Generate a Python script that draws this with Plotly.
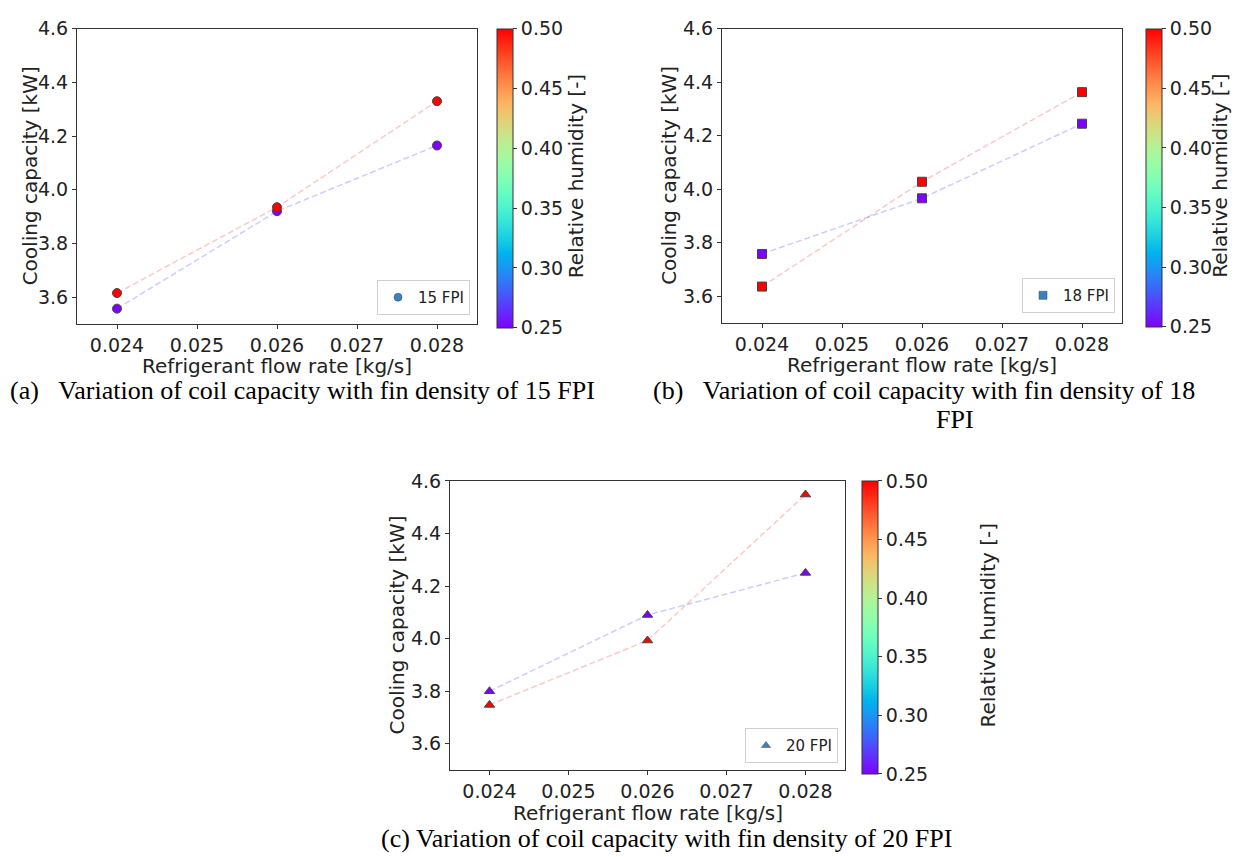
import plotly.graph_objects as go
import math

W, H = 1237, 857

# ---------------- data ----------------
flow_rate = [0.024, 0.026, 0.028]
rh_levels = [0.25, 0.50]

cap_15_rh025 = [3.557, 3.920, 4.165]
cap_15_rh050 = [3.615, 3.935, 4.330]
cap_18_rh025 = [3.758, 3.966, 4.245]
cap_18_rh050 = [3.636, 4.028, 4.363]
cap_20_rh025 = [3.800, 4.090, 4.250]
cap_20_rh050 = [3.748, 3.993, 4.548]

x_ticks = [0.024, 0.025, 0.026, 0.027, 0.028]
y_ticks = [3.6, 3.8, 4.0, 4.2, 4.4, 4.6]
cb_ticks = [0.25, 0.30, 0.35, 0.40, 0.45, 0.50]

labels = ["15 FPI", "18 FPI", "20 FPI"]
captions = ["(a)\u00a0\u00a0\u00a0Variation of coil capacity with fin density of 15 FPI",
            "(b)\u00a0\u00a0\u00a0Variation of coil capacity with fin density of 18",
            "FPI",
            "(c) Variation of coil capacity with fin density of 20 FPI"]


def px(x):
    return x / W


def py(y):
    return 1 - y / H


# matplotlib "rainbow" colormap
def rainbow(t):
    r = min(1.0, abs(2 * t - 0.5))
    g = math.sin(math.pi * t)
    b = math.cos(math.pi * t / 2)
    return "rgb(%d,%d,%d)" % (round(r * 255), round(g * 255), round(b * 255))


colorscale = [[i / 20, rainbow(i / 20)] for i in range(21)]

FONT = "DejaVu Sans"
SERIF = "Liberation Serif"
TICKF = 19
TITLEF = 20
AXIS_COL = "#333333"
TXT = "#222222"

panels = [
    dict(ax=(77, 477, 18, 317), cb=497, leg=(470, 308), sym="circle",
         lo=cap_15_rh025, hi=cap_15_rh050, ytitle_x=30, cbtitle_x=576),
    dict(ax=(722, 1122, 18, 316), cb=1146, leg=(1115, 306), sym="square",
         lo=cap_18_rh025, hi=cap_18_rh050, ytitle_x=669, cbtitle_x=1220),
    dict(ax=(450, 845, 476, 769), cb=862, leg=(838, 762), sym="triangle-up",
         lo=cap_20_rh025, hi=cap_20_rh050, ytitle_x=397, cbtitle_x=988),
]

fig = go.Figure()
layout = dict(width=W, height=H, margin=dict(l=0, r=0, t=0, b=0),
              paper_bgcolor="white", plot_bgcolor="white",
              font=dict(family=FONT, color=TXT), annotations=[])

for i, p in enumerate(panels):
    n = "" if i == 0 else str(i + 1)
    xa, ya = "x" + n, "y" + n
    leg = "legend" + n
    l, r, t, b = p["ax"]
    fig.add_trace(go.Scatter(x=flow_rate, y=p["hi"], mode="lines", xaxis=xa, yaxis=ya,
                             line=dict(color="rgba(255,0,0,0.22)", width=1.5, dash="6px,3px"),
                             showlegend=False, hoverinfo="skip"))
    fig.add_trace(go.Scatter(x=flow_rate, y=p["lo"], mode="lines", xaxis=xa, yaxis=ya,
                             line=dict(color="rgba(0,0,255,0.2)", width=1.5, dash="6px,3px"),
                             showlegend=False, hoverinfo="skip"))
    xs = flow_rate + flow_rate
    ys = p["lo"] + p["hi"]
    cs = [rh_levels[0]] * 3 + [rh_levels[1]] * 3
    fig.add_trace(go.Scatter(
        x=xs, y=ys, mode="markers", xaxis=xa, yaxis=ya, showlegend=False,
        marker=dict(symbol=p["sym"], size=9, color=cs, colorscale=colorscale,
                    cmin=0.25, cmax=0.5, line=dict(color="#444", width=1),
                    showscale=True,
                    colorbar=dict(x=px(p["cb"]), xanchor="left", y=py(t), yanchor="top",
                                  len=(b - t), lenmode="pixels", thickness=16,
                                  thicknessmode="pixels", outlinewidth=1,
                                  outlinecolor=AXIS_COL, ticks="outside", ticklen=4,
                                  tickcolor=AXIS_COL, tickvals=cb_ticks,
                                  ticktext=["%.2f" % v for v in cb_ticks],
                                  tickfont=dict(size=TICKF, family=FONT, color=TXT),
                                  xpad=0, ypad=0))))
    fig.add_trace(go.Scatter(x=[None], y=[None], mode="markers", xaxis=xa, yaxis=ya,
                             name=labels[i], legend=leg,
                             marker=dict(symbol=p["sym"], size=8, color="#3b80c0",
                                         line=dict(color="#444", width=0.5))))
    layout[leg] = dict(x=px(p["leg"][0]), y=py(p["leg"][1]), xanchor="right",
                       yanchor="bottom", bgcolor="white", bordercolor="#d0d0d0",
                       borderwidth=1, font=dict(size=15, family=FONT, color=TXT),
                       itemwidth=30)
    common = dict(showline=True, mirror=True, linecolor=AXIS_COL, linewidth=1,
                  ticks="outside", ticklen=4, tickcolor=AXIS_COL, showgrid=False,
                  zeroline=False, tickfont=dict(size=TICKF, family=FONT, color=TXT))
    layout["xaxis" + n] = dict(domain=[px(l), px(r)], anchor=ya, range=[0.0235, 0.0285],
                               tickvals=x_ticks, ticktext=["%.3f" % v for v in x_ticks],
                               **common)
    layout["yaxis" + n] = dict(domain=[py(b), py(t)], anchor=xa, range=[3.5, 4.6],
                               tickvals=y_ticks, ticktext=["%.1f" % v for v in y_ticks],
                               **common)
    layout["annotations"].append(dict(text="Refrigerant flow rate [kg/s]", x=px((l + r) / 2),
                                      y=py(b + 43), xref="paper", yref="paper",
                                      xanchor="center", yanchor="middle", showarrow=False,
                                      font=dict(size=TITLEF, family=FONT, color=TXT)))
    layout["annotations"].append(dict(text="Cooling capacity [kW]", x=px(p["ytitle_x"]),
                                      y=py((t + b) / 2), xref="paper", yref="paper",
                                      xanchor="center", yanchor="middle", textangle=-90,
                                      showarrow=False,
                                      font=dict(size=TITLEF, family=FONT, color=TXT)))
    layout["annotations"].append(dict(text="Relative humidity [-]", x=px(p["cbtitle_x"]),
                                      y=py((t + b) / 2), xref="paper", yref="paper",
                                      xanchor="center", yanchor="middle", textangle=-90,
                                      showarrow=False,
                                      font=dict(size=TITLEF, family=FONT, color=TXT)))

cap_font = dict(size=26, family=SERIF, color="black")
layout["annotations"] += [
    dict(text=captions[0], x=px(8), y=py(384), xref="paper", yref="paper",
         xanchor="left", yanchor="middle", showarrow=False, font=cap_font),
    dict(text=captions[1], x=px(651), y=py(384), xref="paper", yref="paper",
         xanchor="left", yanchor="middle", showarrow=False, font=cap_font),
    dict(text=captions[2], x=px(955), y=py(414), xref="paper", yref="paper",
         xanchor="center", yanchor="middle", showarrow=False, font=cap_font),
    dict(text=captions[3], x=px(666), y=py(838), xref="paper", yref="paper",
         xanchor="center", yanchor="middle", showarrow=False, font=cap_font),
]

fig.update_layout(**layout)
fig.write_html("out.html", config={"displayModeBar": False},
               post_script="document.body.style.margin='0';"
                           "document.body.style.overflow='hidden';")
